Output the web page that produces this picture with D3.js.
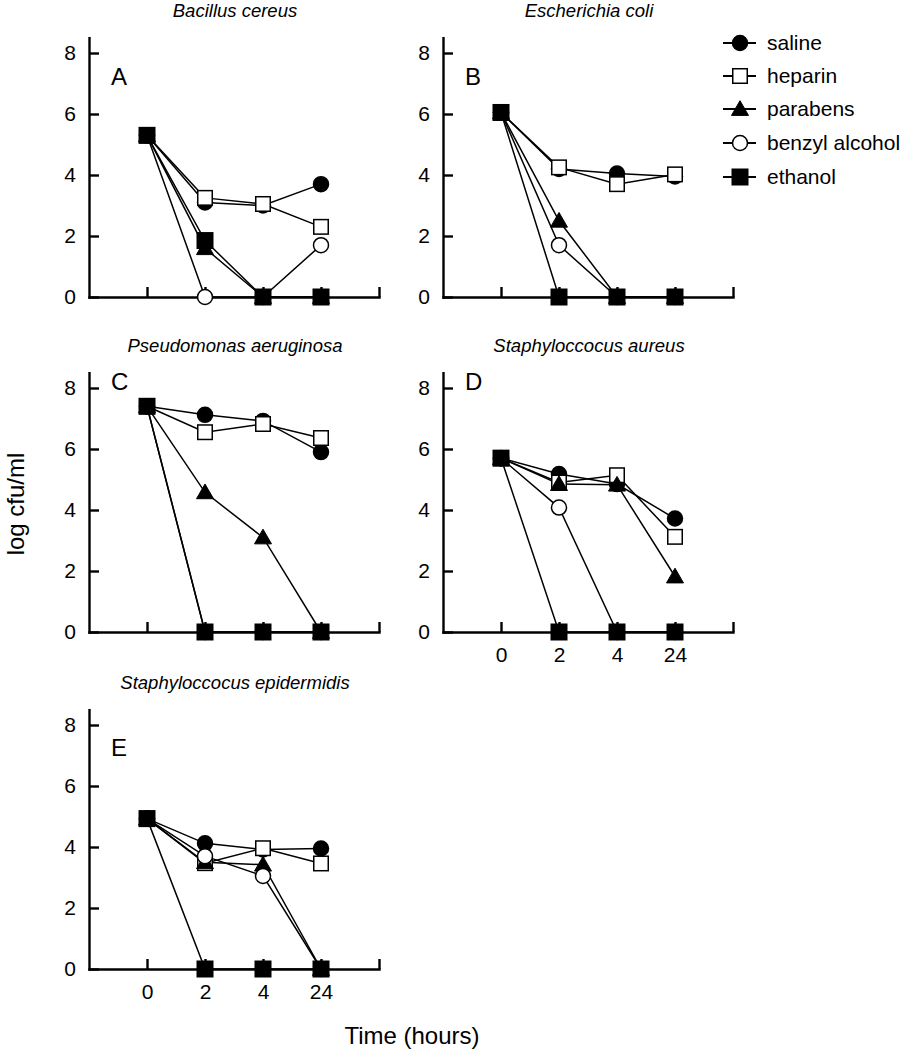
<!DOCTYPE html>
<html>
<head>
<meta charset="utf-8">
<script src="https://cdn.jsdelivr.net/npm/d3@7"></script>
<style>
  html, body { margin: 0; padding: 0; background: #fff; }
  svg text { font-family: "Liberation Sans", Arial, Helvetica, sans-serif; fill: #000; }
</style>
</head>
<body>
<svg id="chart" width="901" height="1050"></svg>
<script>
// ---------- data ----------
const timeLabels = ["0", "2", "4", "24"];
const seriesNames = ["saline", "heparin", "parabens", "benzyl alcohol", "ethanol"];
const panelTitles = ["Bacillus cereus", "Escherichia coli", "Pseudomonas aeruginosa",
                     "Staphyloccocus aureus", "Staphyloccocus epidermidis"];
const panelLetters = ["A", "B", "C", "D", "E"];
const yTicks = [0, 2, 4, 6, 8];

// each row: one series (saline, heparin, parabens, benzyl alcohol, ethanol) at 0, 2, 4, 24 h
const bacillusCereus = [
  [5.3, 3.1, 3.0, 3.7],
  [5.3, 3.25, 3.05, 2.3],
  [5.3, 1.6, 0, 0],
  [5.3, 0, 0, 1.7],
  [5.3, 1.85, 0, 0]
];
const escherichiaColi = [
  [6.05, 4.2, 4.05, 3.95],
  [6.05, 4.25, 3.7, 4.02],
  [6.05, 2.5, 0, 0],
  [6.05, 1.7, 0, 0],
  [6.05, 0, 0, 0]
];
const pseudomonasAeruginosa = [
  [7.4, 7.12, 6.92, 5.9],
  [7.4, 6.55, 6.82, 6.36],
  [7.4, 4.58, 3.1, 0],
  [7.4, 0, 0, 0],
  [7.4, 0, 0, 0]
];
const staphAureus = [
  [5.7, 5.18, 4.85, 3.72],
  [5.7, 4.9, 5.14, 3.12],
  [5.7, 4.85, 4.83, 1.82],
  [5.7, 4.08, 0, 0],
  [5.7, 0, 0, 0]
];
const staphEpidermidis = [
  [4.93, 4.12, 3.92, 3.95],
  [4.93, 3.47, 3.96, 3.46],
  [4.93, 3.5, 3.42, 0],
  [4.93, 3.7, 3.05, 0],
  [4.93, 0, 0, 0]
];
const panelData = [bacillusCereus, escherichiaColi, pseudomonasAeruginosa, staphAureus, staphEpidermidis];

// ---------- layout ----------
const colX = [89, 443];
const rowZeroY = [297, 632, 969];
const panelW = 290;
const unitPx = 30.5;
const yMax = 8.5;
const panelPos = [[0, 0], [1, 0], [0, 1], [1, 1], [0, 2]];
const letterLevel = [6.95, 6.95, 7.95, 7.95, 7.0];
const showXLabels = [false, false, false, true, true];

const svg = d3.select("#chart");
const font = '"Liberation Sans", Arial, Helvetica, sans-serif';

// marker drawing
function drawMarker(g, type, cx, cy) {
  if (type === 0 || type === 3) {
    g.append("circle").attr("cx", cx).attr("cy", cy).attr("r", 7.5)
      .attr("fill", type === 0 ? "#000" : "#fff").attr("stroke", "#000").attr("stroke-width", 1.5);
  } else if (type === 1 || type === 4) {
    const s = type === 1 ? 14.5 : 15.5;
    g.append("rect").attr("x", cx - s / 2).attr("y", cy - s / 2).attr("width", s).attr("height", s)
      .attr("fill", type === 1 ? "#fff" : "#000").attr("stroke", "#000").attr("stroke-width", 1.5);
  } else if (type === 2) {
    g.append("path").attr("d", d3.symbol().type(d3.symbolTriangle).size(125)())
      .attr("transform", `translate(${cx},${cy + 1.5})`)
      .attr("fill", "#000").attr("stroke", "#000").attr("stroke-width", 1);
  }
}

panelData.forEach((data, p) => {
  const [c, r] = panelPos[p];
  const x0 = colX[c];
  const y0 = rowZeroY[r];
  const x = d3.scaleLinear().domain([0, 5]).range([x0, x0 + panelW]);
  const y = d3.scaleLinear().domain([0, yMax]).range([y0, y0 - yMax * unitPx]);
  const g = svg.append("g");

  // y axis
  const ya = g.append("g").attr("transform", `translate(${x0},0)`)
    .call(d3.axisLeft(y).tickValues(yTicks).tickSizeInner(-10).tickSizeOuter(0).tickPadding(13));
  // x axis
  const xa = g.append("g").attr("transform", `translate(0,${y0})`)
    .call(d3.axisBottom(x).tickValues([1, 2, 3, 4, 5]).tickSizeInner(-10).tickSizeOuter(0).tickPadding(15)
      .tickFormat(v => (showXLabels[p] && v <= 4) ? timeLabels[v - 1] : ""));
  [ya, xa].forEach(a => {
    a.selectAll("path.domain").attr("stroke", "#000").attr("stroke-width", 2.4).attr("stroke-linecap", "square");
    a.selectAll(".tick line").attr("stroke", "#000").attr("stroke-width", 2.4);
    a.selectAll(".tick text").style("font-family", font).style("font-size", "21px").attr("fill", "#000");
  });

  // title
  g.append("text").attr("x", x0 + panelW / 2 + 1).attr("y", y0 - 280)
    .attr("text-anchor", "middle").style("font-size", "18.5px").style("font-style", "italic")
    .text(panelTitles[p]);
  // letter
  g.append("text").attr("x", x0 + 22).attr("y", y(letterLevel[p]))
    .style("font-size", "24px").text(panelLetters[p]);

  // lines
  const line = d3.line().x((d, i) => x(i + 1)).y(d => y(d));
  data.forEach(s => {
    g.append("path").attr("d", line(s)).attr("fill", "none")
      .attr("stroke", "#000").attr("stroke-width", 1.5);
  });
  // markers
  data.forEach((s, k) => {
    s.forEach((v, i) => drawMarker(g, k, x(i + 1), y(v)));
  });
});

// legend
const legY = [43, 76, 109, 143, 177];
const lg = svg.append("g");
seriesNames.forEach((name, k) => {
  lg.append("line").attr("x1", 723).attr("x2", 756).attr("y1", legY[k]).attr("y2", legY[k])
    .attr("stroke", "#000").attr("stroke-width", 1.8);
  drawMarker(lg, k, 740, legY[k]);
  lg.append("text").attr("x", 767).attr("y", legY[k]).attr("dy", "0.35em")
    .style("font-size", "21px").text(name);
});

// axis titles
svg.append("text").attr("transform", "translate(24,504) rotate(-90)")
  .attr("text-anchor", "middle").style("font-size", "24px").text("log cfu/ml");
svg.append("text").attr("x", 412).attr("y", 1044)
  .attr("text-anchor", "middle").style("font-size", "24px").text("Time (hours)");
</script>
</body>
</html>
